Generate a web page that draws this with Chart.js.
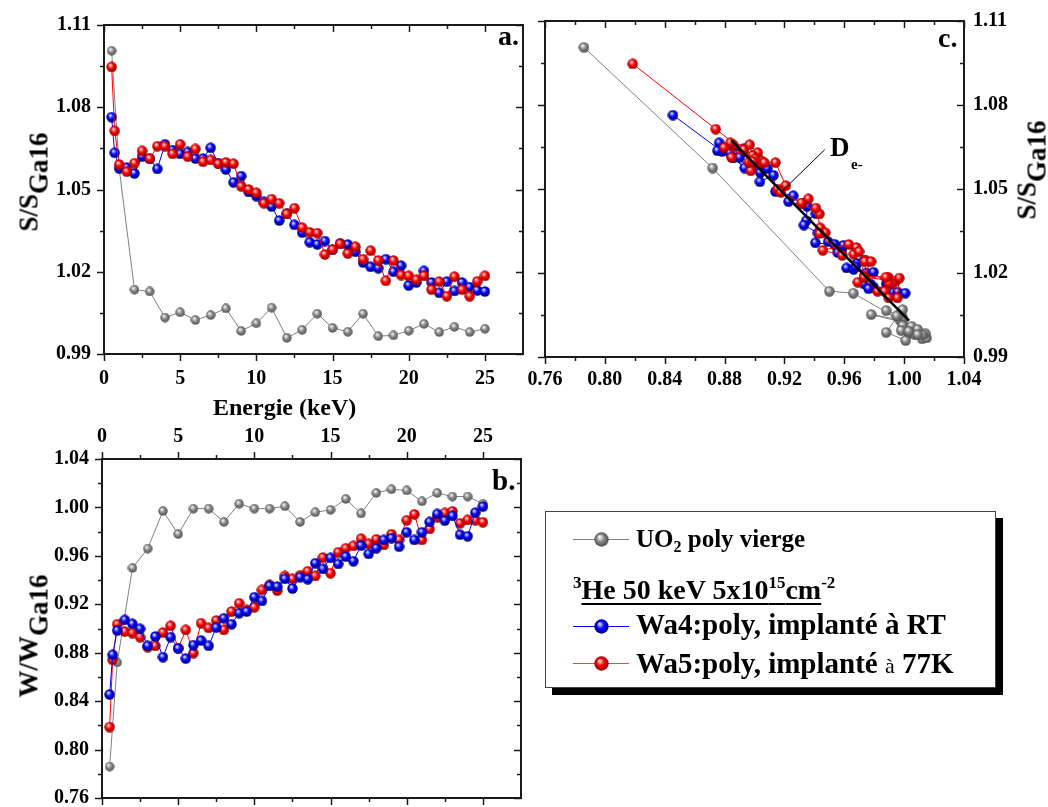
<!DOCTYPE html>
<html>
<head>
<meta charset="utf-8">
<script src="https://cdn.jsdelivr.net/npm/chart.js@4.4.0/dist/chart.umd.min.js"></script>
<style>
html, body { margin: 0; padding: 0; background: #fff; width: 1048px; height: 807px; overflow: hidden; }
body { position: relative; font-family: 'Liberation Serif', 'Times New Roman', serif; font-weight: bold; color: #000; }
canvas.plot { position: absolute; left: 0; top: 0; }
.t { position: absolute; white-space: nowrap; line-height: 1; }
.ytitle { position: absolute; white-space: nowrap; line-height: 1; font-size: 27px; transform: translate(-50%, -50%) rotate(-90deg); }
.ytitle span { position: relative; top: 10px; }
#legend { position: absolute; left: 545px; top: 511px; width: 449px; height: 175px; border: 1px solid #444; background: #fff; box-shadow: 7px 7px 0 #000; }
#legend .sym { position: absolute; left: 27px; width: 56px; height: 15px; }
#legend .sym i { position: absolute; left: 0; right: 0; top: 7px; height: 1px; }
#legend .sym canvas { position: absolute; left: 21px; top: 0; }
</style>
</head>
<body>
<canvas id="chartA" class="plot" width="1048" height="807"></canvas>
<canvas id="chartB" class="plot" width="1048" height="850"></canvas>
<canvas id="chartC" class="plot" width="1048" height="807"></canvas>

<div class="ytitle" style="left:29px; top:182px;">S/S<span>Ga16</span></div>
<div class="ytitle" style="left:29px; top:636px;">W/W<span>Ga16</span></div>
<div class="ytitle" style="left:1027px; top:170px;">S/S<span>Ga16</span></div>
<div class="t" style="left:213px; top:395px; font-size:24px;">Energie (keV)</div>
<div class="t" style="left:498px; top:22px; font-size:28px;">a.</div>
<div class="t" style="left:492px; top:466px; font-size:29px;">b.</div>
<div class="t" style="left:938px; top:24px; font-size:28px;">c.</div>
<div class="t" style="left:830px; top:134px; font-size:27px;">D</div>
<div class="t" style="left:851px; top:157px; font-size:15px;">e-</div>

<div id="legend">
  <div class="sym" style="top:20px;"><i style="background:#808080"></i><canvas id="lgGray" width="15" height="15"></canvas></div>
  <div class="t" style="left:90px; top:14px; font-size:25px;">UO<sub style="font-size:16px; vertical-align:-5px;">2</sub> poly vierge</div>
  <div class="t" style="left:27px; top:62px; font-size:28px;"><sup style="font-size:17px; vertical-align:11px;">3</sup><span style="text-decoration:underline; text-decoration-thickness:2px; text-underline-offset:4px;">He 50 keV 5x10<sup style="font-size:17px; vertical-align:11px;">15</sup>cm</span><sup style="font-size:17px; vertical-align:11px;">-2</sup></div>
  <div class="sym" style="top:107px;"><i style="background:#0000ff"></i><canvas id="lgBlue" width="15" height="15"></canvas></div>
  <div class="t" style="left:90px; top:98px; font-size:29px;">Wa4:poly, implanté à RT</div>
  <div class="sym" style="top:144px;"><i style="background:#ff4040"></i><canvas id="lgRed" width="15" height="15"></canvas></div>
  <div class="t" style="left:90px; top:137px; font-size:29px;">Wa5:poly, implanté <span style="font-weight:normal; font-size:22px;">à</span> 77K</div>
</div>

<script>
// --- DATA ---
// implanted samples: energies (keV)
const energyFine = [0.5, 0.7, 1, 1.5, 2, 2.5, 3, 3.5, 4, 4.5, 5, 5.5, 6, 6.5, 7, 7.5, 8, 8.5, 9, 9.5,
    10, 10.5, 11, 11.5, 12, 12.5, 13, 13.5, 14, 14.5, 15, 15.5, 16, 16.5, 17, 17.5, 18, 18.5, 19, 19.5,
    20, 20.5, 21, 21.5, 22, 22.5, 23, 23.5, 24, 24.5, 25];
// virgin sample: energies (keV)
const energyCoarse = [0.5, 1, 2, 3, 4, 5, 6, 7, 8, 9, 10, 11, 12, 13, 14, 15, 16, 17, 18, 19, 20, 21, 22, 23, 24, 25];

// S/S_Ga16
const sVierge = [1.1006, 1.0575, 1.0135, 1.0128, 1.0033, 1.0052, 1.0024, 1.0042, 1.0066, 0.9984, 1.0012, 1.0069, 0.9959,
    0.9988, 1.0047, 0.9995, 0.9981, 1.0047, 0.9965, 0.9968, 0.9985, 1.0010, 0.9980, 0.9999, 0.9980, 0.9992];
const sWa4 = [1.0764, 1.0634, 1.0578, 1.0580, 1.0559, 1.0620, 1.0612, 1.0575, 1.0665, 1.0644, 1.0630, 1.0637, 1.0613,
    1.0613, 1.0652, 1.0596, 1.0573, 1.0526, 1.0549, 1.0491, 1.0476, 1.0455, 1.0438, 1.0387, 1.0412, 1.0371, 1.0343,
    1.0308, 1.0300, 1.0312, 1.0280, 1.0303, 1.0299, 1.0273, 1.0234, 1.0218, 1.0213, 1.0246, 1.0200, 1.0222, 1.0150,
    1.0161, 1.0203, 1.0161, 1.0123, 1.0164, 1.0130, 1.0161, 1.0144, 1.0132, 1.0128];
const sWa5 = [1.0947, 1.0714, 1.0591, 1.0565, 1.0596, 1.0641, 1.0613, 1.0658, 1.0658, 1.0630, 1.0665, 1.0620, 1.0648,
    1.0601, 1.0608, 1.0594, 1.0599, 1.0594, 1.0512, 1.0500, 1.0488, 1.0450, 1.0465, 1.0450, 1.0411, 1.0432, 1.0361,
    1.0344, 1.0341, 1.0263, 1.0281, 1.0302, 1.0267, 1.0291, 1.0246, 1.0277, 1.0241, 1.0167, 1.0241, 1.0188, 1.0185,
    1.0171, 1.0185, 1.0135, 1.0164, 1.0111, 1.0182, 1.0135, 1.0111, 1.0165, 1.0185];

// W/W_Ga16
const wVierge = [0.786, 0.872, 0.950, 0.966, 0.997, 0.978, 0.999, 0.999, 0.988, 1.003, 0.999, 0.999, 1.001,
    0.988, 0.996, 0.998, 1.007, 0.995, 1.012, 1.015, 1.014, 1.005, 1.012, 1.009, 1.009, 1.003];
const wWa4 = [0.8455, 0.8783, 0.8983, 0.9071, 0.9038, 0.8997, 0.8857, 0.8934, 0.8764, 0.8929, 0.8835, 0.8752, 0.8863,
    0.8901, 0.8857, 0.9008, 0.9085, 0.9036, 0.9127, 0.9140, 0.9259, 0.9228, 0.9352, 0.9346, 0.9410, 0.9330, 0.9424,
    0.9407, 0.9539, 0.9492, 0.9583, 0.9533, 0.9594, 0.9556, 0.9685, 0.9616, 0.9663, 0.9732, 0.9746, 0.9676, 0.9795,
    0.9732, 0.9795, 0.9880, 0.9946, 0.9891, 0.9930, 0.9775, 0.9762, 0.9957, 1.0007];
const wWa5 = [0.8186, 0.8741, 0.9036, 0.8975, 0.8962, 0.8929, 0.8846, 0.8857, 0.8967, 0.9022, 0.8838, 0.8989, 0.8797,
    0.9044, 0.9005, 0.9066, 0.8989, 0.9140, 0.9209, 0.9154, 0.9176, 0.9319, 0.9360, 0.9313, 0.9434, 0.9410, 0.9440,
    0.9473, 0.9434, 0.9586, 0.9457, 0.9630, 0.9663, 0.9682, 0.9742, 0.9699, 0.9737, 0.9690, 0.9779, 0.9732, 0.9894,
    0.9943, 0.9732, 0.9822, 0.9920, 0.9955, 0.9968, 0.9869, 0.9897, 0.9895, 0.9878];

// straight line through the S-W points (panel c) and pointer for the D label
const fitLineW = [0.8845, 1.0033];
const fitLineS = [1.0674, 1.0030];
const pointerW = [0.918, 0.947];
const pointerS = [1.0490, 1.0641];

// ticks
const energyMajor = [0, 5, 10, 15, 20, 25];
const energyMinor = [2.5, 7.5, 12.5, 17.5, 22.5];
const sMajor = [0.99, 1.02, 1.05, 1.08, 1.11];
const sMinor = [1.005, 1.035, 1.065, 1.095];
const wMajor = [0.76, 0.80, 0.84, 0.88, 0.92, 0.96, 1.00, 1.04];
const wMinor = [0.78, 0.82, 0.86, 0.90, 0.94, 0.98, 1.02];

const FONT = "'Liberation Serif', 'Times New Roman', serif";

document.addEventListener('DOMContentLoaded', () => {
    initCharts();
});

// --- HELPERS ---

function makeBall(base, light, dark, size) {
    const c = document.createElement('canvas');
    c.width = c.height = size;
    const g = c.getContext('2d');
    const r = size / 2;
    const grad = g.createRadialGradient(r * 0.72, r * 0.62, 0, r, r, r);
    grad.addColorStop(0, '#ffffff');
    grad.addColorStop(0.2, light);
    grad.addColorStop(0.5, base);
    grad.addColorStop(1, dark);
    g.fillStyle = grad;
    g.beginPath();
    g.arc(r, r, r - 0.3, 0, Math.PI * 2);
    g.fill();
    return c;
}

function pairs(xs, ys) {
    return xs.map((x, i) => ({ x: x, y: ys[i] }));
}

// frame + inward/outward tick marks, drawn from the chart's own scales
const frameTicks = {
    id: 'frameTicks',
    afterDatasetsDraw(chart, args, opts) {
        const { ctx, chartArea: a } = chart;
        const xs = chart.scales.x, ys = chart.scales.y;
        ctx.save();
        ctx.strokeStyle = '#1a1a1a';
        ctx.lineWidth = 2;
        ctx.strokeRect(a.left, a.top, a.right - a.left, a.bottom - a.top);
        ctx.lineWidth = 1.5;

        function marks(side, values, len) {
            const out = opts.dirs[side] === 'out' ? 1 : -1;
            values.forEach(v => {
                ctx.beginPath();
                if (side === 'left' || side === 'right') {
                    const y = Math.round(ys.getPixelForValue(v)) + 0.5;
                    const x0 = side === 'left' ? a.left : a.right;
                    const s = (side === 'left' ? -1 : 1) * out;
                    ctx.moveTo(x0, y);
                    ctx.lineTo(x0 + s * len, y);
                } else {
                    const x = Math.round(xs.getPixelForValue(v)) + 0.5;
                    const y0 = side === 'top' ? a.top : a.bottom;
                    const s = (side === 'top' ? -1 : 1) * out;
                    ctx.moveTo(x, y0);
                    ctx.lineTo(x, y0 + s * len);
                }
                ctx.stroke();
            });
        }

        ['top', 'bottom'].forEach(side => {
            marks(side, opts.xMajor, 7);
            marks(side, opts.xMinor, 4);
        });
        ['left', 'right'].forEach(side => {
            marks(side, opts.yMajor, 7);
            marks(side, opts.yMinor, 4);
        });
        ctx.restore();
    }
};

function axis(pos, min, max, major, fmt, pad, size) {
    const horizontal = pos === 'top' || pos === 'bottom';
    return {
        type: 'linear',
        position: pos,
        min: min,
        max: max,
        grid: { display: false, drawTicks: false },
        border: { display: false },
        afterBuildTicks: (s) => { s.ticks = major.map(v => ({ value: v })); },
        afterFit: (s) => { if (horizontal) s.height = size; else s.width = size; },
        ticks: {
            autoSkip: false,
            maxRotation: 0,
            padding: pad,
            color: '#000',
            font: { family: FONT, size: 20, weight: 'bold' },
            callback: fmt
        }
    };
}

function series(data, color, ball, order) {
    return {
        data: data,
        showLine: true,
        borderColor: color,
        borderWidth: 1,
        pointStyle: ball,
        pointRadius: 5,
        order: order
    };
}

function baseOptions(padding, scales, ticks) {
    return {
        responsive: false,
        animation: false,
        events: [],
        layout: { padding: padding },
        plugins: { legend: { display: false }, tooltip: { enabled: false }, frameTicks: ticks },
        scales: scales
    };
}

// --- CHARTS ---

function initCharts() {
    const ballGray = makeBall('#8a8a8a', '#d8d8d8', '#4a4a4a', 10);
    const ballBlue = makeBall('#0000ff', '#9c9cff', '#00006e', 11);
    const ballRed = makeBall('#ff0000', '#ff9c9c', '#8c0000', 11);
    const ballGrayC = makeBall('#8a8a8a', '#d8d8d8', '#4a4a4a', 11);

    const intLabel = v => String(v);
    const dec2 = v => v.toFixed(2);

    // a. S vs energy
    new Chart(document.getElementById('chartA'), {
        type: 'scatter',
        data: {
            datasets: [
                series(pairs(energyFine, sWa5), '#ff0000', ballRed, 1),
                series(pairs(energyFine, sWa4), '#0000ff', ballBlue, 2),
                series(pairs(energyCoarse, sVierge), '#808080', ballGray, 3)
            ]
        },
        options: baseOptions(
            { left: 34, right: 525, top: 15, bottom: 413 },
            {
                x: axis('bottom', 0, 27.5, energyMajor, intLabel, 13, 40),
                y: axis('left', 0.99, 1.11, sMajor, dec2, 13, 70)
            },
            { xMajor: energyMajor, xMinor: energyMinor, yMajor: sMajor, yMinor: sMinor,
              dirs: { left: 'out', bottom: 'out', top: 'in', right: 'in' } }
        ),
        plugins: [frameTicks]
    });

    // b. W vs energy
    new Chart(document.getElementById('chartB'), {
        type: 'scatter',
        data: {
            datasets: [
                series(pairs(energyFine, wWa5), '#ff0000', ballRed, 2),
                series(pairs(energyFine, wWa4), '#0000ff', ballBlue, 1),
                series(pairs(energyCoarse, wVierge), '#808080', ballGray, 3)
            ]
        },
        options: baseOptions(
            { left: 32, right: 527, top: 419, bottom: 52 },
            {
                x: axis('top', 0, 27.5, energyMajor, intLabel, 10, 40),
                y: axis('left', 0.76, 1.04, wMajor, dec2, 13, 70)
            },
            { xMajor: energyMajor, xMinor: energyMinor, yMajor: wMajor, yMinor: wMinor,
              dirs: { left: 'out', bottom: 'out', top: 'out', right: 'in' } }
        ),
        plugins: [frameTicks]
    });

    // c. S vs W
    new Chart(document.getElementById('chartC'), {
        type: 'scatter',
        data: {
            datasets: [
                { data: pairs(fitLineW, fitLineS), showLine: true, borderColor: '#000', borderWidth: 2.5, pointRadius: 0, order: 0 },
                { data: pairs(pointerW, pointerS), showLine: true, borderColor: '#000', borderWidth: 1, pointRadius: 0, order: 0 },
                series(pairs(wWa5, sWa5), '#ff0000', ballRed, 1),
                series(pairs(wWa4, sWa4), '#0000ff', ballBlue, 2),
                series(pairs(wVierge, sVierge), '#808080', ballGrayC, 3)
            ]
        },
        options: baseOptions(
            { left: 545, right: 14, top: 18, bottom: 410 },
            {
                x: axis('bottom', 0.76, 1.04, wMajor, dec2, 11, 40),
                y: axis('right', 0.99, 1.11, sMajor, dec2, 9, 70)
            },
            { xMajor: wMajor, xMinor: wMinor, yMajor: sMajor, yMinor: sMinor,
              dirs: { left: 'out', bottom: 'out', top: 'in', right: 'in' } }
        ),
        plugins: [frameTicks]
    });

    // legend symbols
    const lg = [['lgGray', '#8a8a8a', '#d8d8d8', '#4a4a4a'], ['lgBlue', '#0000ff', '#9c9cff', '#00006e'], ['lgRed', '#ff0000', '#ff9c9c', '#8c0000']];
    lg.forEach(([id, b, l, d]) => {
        document.getElementById(id).getContext('2d').drawImage(makeBall(b, l, d, 15), 0, 0);
    });
}
</script>
</body>
</html>
